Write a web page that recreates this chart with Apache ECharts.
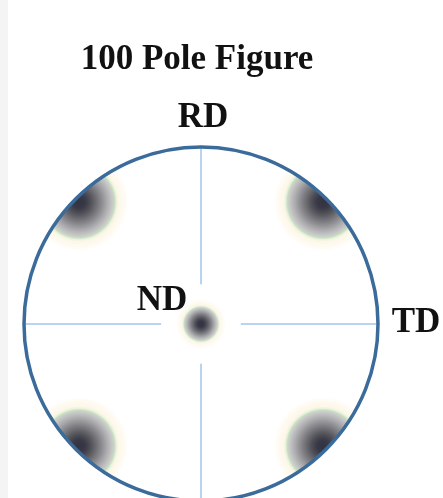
<!DOCTYPE html>
<html>
<head>
<meta charset="utf-8">
<script src="https://cdn.jsdelivr.net/npm/echarts@6/dist/echarts.min.js"></script>
<style>html,body{margin:0;padding:0;background:#fff}#c{width:443px;height:498px}</style>
</head>
<body>
<div id="c"></div>
<script>
// ---- data ----
const titleText = '100 Pole Figure';
const axisLabels = ['RD', 'TD', 'ND'];
const poleNames = ['ND', 'P45', 'P135', 'P225', 'P315'];
const poleRadius = [0, 0.975, 0.975, 0.975, 0.975];   // fraction of stereogram radius
const poleAngle = [0, 45, 135, 225, 315];             // degrees
const crossAngles = [0, 90, 180, 270];
const crossInner = 0.225;
const crossOuter = 1.0;

// ---- layout / style ----
const CX = 201, CY = 324, R = 177;
const font = 'bold 35px "Liberation Serif", "Times New Roman", serif';

function spotGradient(isCenter) {
  const stops = isCenter ? [
    [0.00, '#000010'], [0.12, '#05051a'], [0.24, '#2a2a34'], [0.38, '#5e5e66'],
    [0.52, '#9a9a9e'], [0.61, '#bcbcbc'], [0.65, '#bad8b4'], [0.70, '#eef2dc'],
    [0.75, '#fcf6e6'], [0.90, '#fffcf5'], [1.00, 'rgba(255,255,255,0)']
  ] : [
    [0.00, '#000010'], [0.12, '#06061a'], [0.24, '#26262e'], [0.40, '#5c5c62'],
    [0.56, '#96969a'], [0.68, '#bdbdbd'], [0.715, '#b6d6b0'], [0.75, '#e4eed4'],
    [0.79, '#fcf5e2'], [0.93, '#fffbf3'], [1.00, 'rgba(255,255,255,0)']
  ];
  return {
    type: 'radial', x: 0.5, y: 0.5, r: 0.5,
    colorStops: stops.map(s => ({ offset: s[0], color: s[1] }))
  };
}

const poleData = poleNames.map((n, i) => ({
  name: n,
  value: [poleRadius[i], poleAngle[i]],
  symbolSize: i === 0 ? 52 : 100,
  itemStyle: { color: spotGradient(i === 0) }
}));

const crossSeries = crossAngles.map(a => ({
  type: 'line',
  coordinateSystem: 'polar',
  data: [[crossInner, a], [crossOuter, a]],
  symbol: 'none',
  silent: true,
  z: 1,
  lineStyle: { color: '#bad3f0', width: 2 }
}));

const chart = echarts.init(document.getElementById('c'), null, { renderer: 'canvas' });
chart.setOption({
  backgroundColor: '#ffffff',
  animation: false,
  polar: { center: [CX, CY], radius: R },
  radiusAxis: {
    type: 'value', min: 0, max: 1,
    axisLine: { show: false }, axisTick: { show: false },
    axisLabel: { show: false }, splitLine: { show: false }
  },
  angleAxis: {
    type: 'value', min: 0, max: 360, startAngle: 90, z: 200,
    axisLine: { show: true, lineStyle: { color: '#3a6b9a', width: 3.5 } },
    axisTick: { show: false }, axisLabel: { show: false }, splitLine: { show: false }
  },
  series: crossSeries.concat([{
    type: 'scatter',
    coordinateSystem: 'polar',
    symbol: 'circle',
    data: poleData,
    z: 3,
    silent: true
  }]),
  graphic: [
    { type: 'ring', z: 100, silent: true,
      shape: { cx: CX, cy: CY, r0: R + 1, r: R + 70 },
      style: { fill: '#ffffff' } },
    { type: 'rect', z: 250, silent: true,
      shape: { x: 0, y: 0, width: 8, height: 498 },
      style: { fill: '#f4f4f4' } },
    { type: 'text', z: 300, silent: true,
      style: { text: titleText, x: 197, y: 60, font: font, fill: '#111111',
               textAlign: 'center', textVerticalAlign: 'middle' } },
    { type: 'text', z: 300, silent: true,
      style: { text: axisLabels[0], x: 203, y: 118, font: font, fill: '#111111',
               textAlign: 'center', textVerticalAlign: 'middle' } },
    { type: 'text', z: 300, silent: true,
      style: { text: axisLabels[1], x: 416, y: 323, font: font, fill: '#111111',
               textAlign: 'center', textVerticalAlign: 'middle' } },
    { type: 'text', z: 300, silent: true,
      style: { text: axisLabels[2], x: 162, y: 301, font: font, fill: '#111111',
               textAlign: 'center', textVerticalAlign: 'middle' } }
  ]
});
</script>
</body>
</html>
